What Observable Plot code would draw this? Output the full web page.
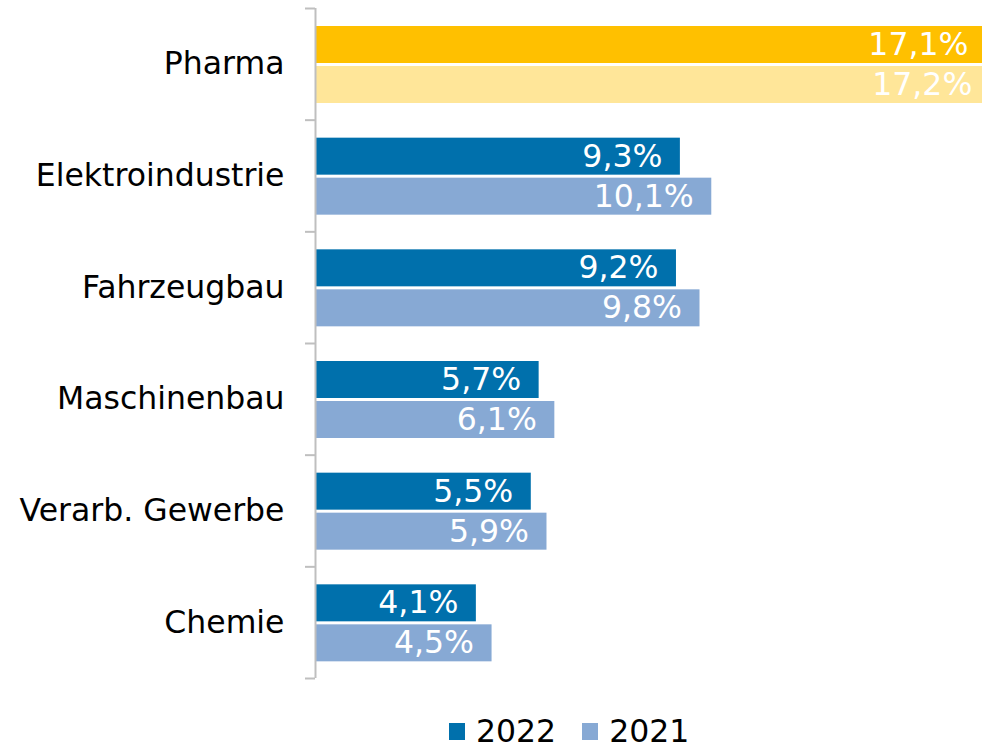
<!DOCTYPE html>
<html>
<head>
<meta charset="utf-8">
<script src="https://cdn.jsdelivr.net/npm/d3@7"></script>
<script src="https://cdn.jsdelivr.net/npm/@observablehq/plot@0.6"></script>
<style>
  html, body { margin: 0; padding: 0; background: #fff; overflow: hidden; }
  #wrap { position: relative; width: 982px; height: 748px; font-family: "DejaVu Sans", Verdana, sans-serif; }
  #legend { position: absolute; top: 714px; left: 449px; height: 34px; display: flex; align-items: center; font-size: 31.5px; line-height: 34px; color: #000; }
  .item { display: flex; align-items: center; margin-right: 26px; }
  .sw { width: 16px; height: 17px; margin-right: 11px; }
</style>
</head>
<body>
<div id="wrap"><div id="chart"></div><div id="legend"></div></div>
<script>
const categories = ["Pharma", "Elektroindustrie", "Fahrzeugbau", "Maschinenbau", "Verarb. Gewerbe", "Chemie"];
const values2022 = [17.1, 9.3, 9.2, 5.7, 5.5, 4.1];
const values2021 = [17.2, 10.1, 9.8, 6.1, 5.9, 4.5];
const years = ["2022", "2021"];
const highlight = "Pharma";

const colors = {"2022": "#0070AC", "2021": "#87A9D4"};
const highlightColors = {"2022": "#FFC000", "2021": "#FFE699"};

const rows = (vals) => categories.map((c, i) => ({category: c, value: vals[i]}));
const rows2022 = rows(values2022);
const rows2021 = rows(values2021);
const fmt = (d) => d.value.toFixed(1).replace(".", ",") + "%";
const fillFor = (year) => (d) => d.category === highlight ? highlightColors[year] : colors[year];

const W = 982, H = 700, mTop = 8, mBottom = 22, mLeft = 315;
const bw = (H - mTop - mBottom) / categories.length;
const FS = 31.5;

const chart = Plot.plot({
  width: W,
  height: H,
  marginLeft: mLeft,
  marginRight: 0,
  marginTop: mTop,
  marginBottom: mBottom,
  style: {fontFamily: "DejaVu Sans, Verdana, sans-serif", fontSize: FS + "px", color: "#000", background: "white"},
  x: {domain: [0, 17], axis: null},
  y: {domain: categories, padding: 0, round: false, label: null},
  marks: [
    Plot.barX(rows2022, {x: "value", y: "category", fill: fillFor("2022"), insetTop: 18, insetBottom: bw - 55, clip: true}),
    Plot.barX(rows2021, {x: "value", y: "category", fill: fillFor("2021"), insetTop: 58, insetBottom: bw - 95, clip: true}),
    Plot.text(rows2022, {x: "value", y: "category", text: fmt, textAnchor: "end", dx: -18, dy: 36.5 - bw / 2, fill: "white", fontSize: FS}),
    Plot.text(rows2021, {x: "value", y: "category", text: fmt, textAnchor: "end", dx: -18, dy: 76.5 - bw / 2, fill: "white", fontSize: FS}),
    Plot.ruleX([0], {stroke: "#BFBFBF", strokeWidth: 2}),
    Plot.axisY({tickSize: 0, tickPadding: 31, fontSize: FS, fill: "#000", label: null}),
    Plot.axisY({text: null, tickSize: 10, dy: -bw / 2, stroke: "#BFBFBF", strokeWidth: 2}),
    Plot.axisY([categories[categories.length - 1]], {text: null, tickSize: 10, dy: bw / 2, stroke: "#BFBFBF", strokeWidth: 2})
  ]
});
document.getElementById("chart").appendChild(chart);

const legend = document.getElementById("legend");
years.forEach((y) => {
  const item = document.createElement("div");
  item.className = "item";
  const sw = document.createElement("div");
  sw.className = "sw";
  sw.style.background = colors[y];
  const t = document.createElement("span");
  t.textContent = y;
  item.appendChild(sw);
  item.appendChild(t);
  legend.appendChild(item);
});
</script>
</body>
</html>
